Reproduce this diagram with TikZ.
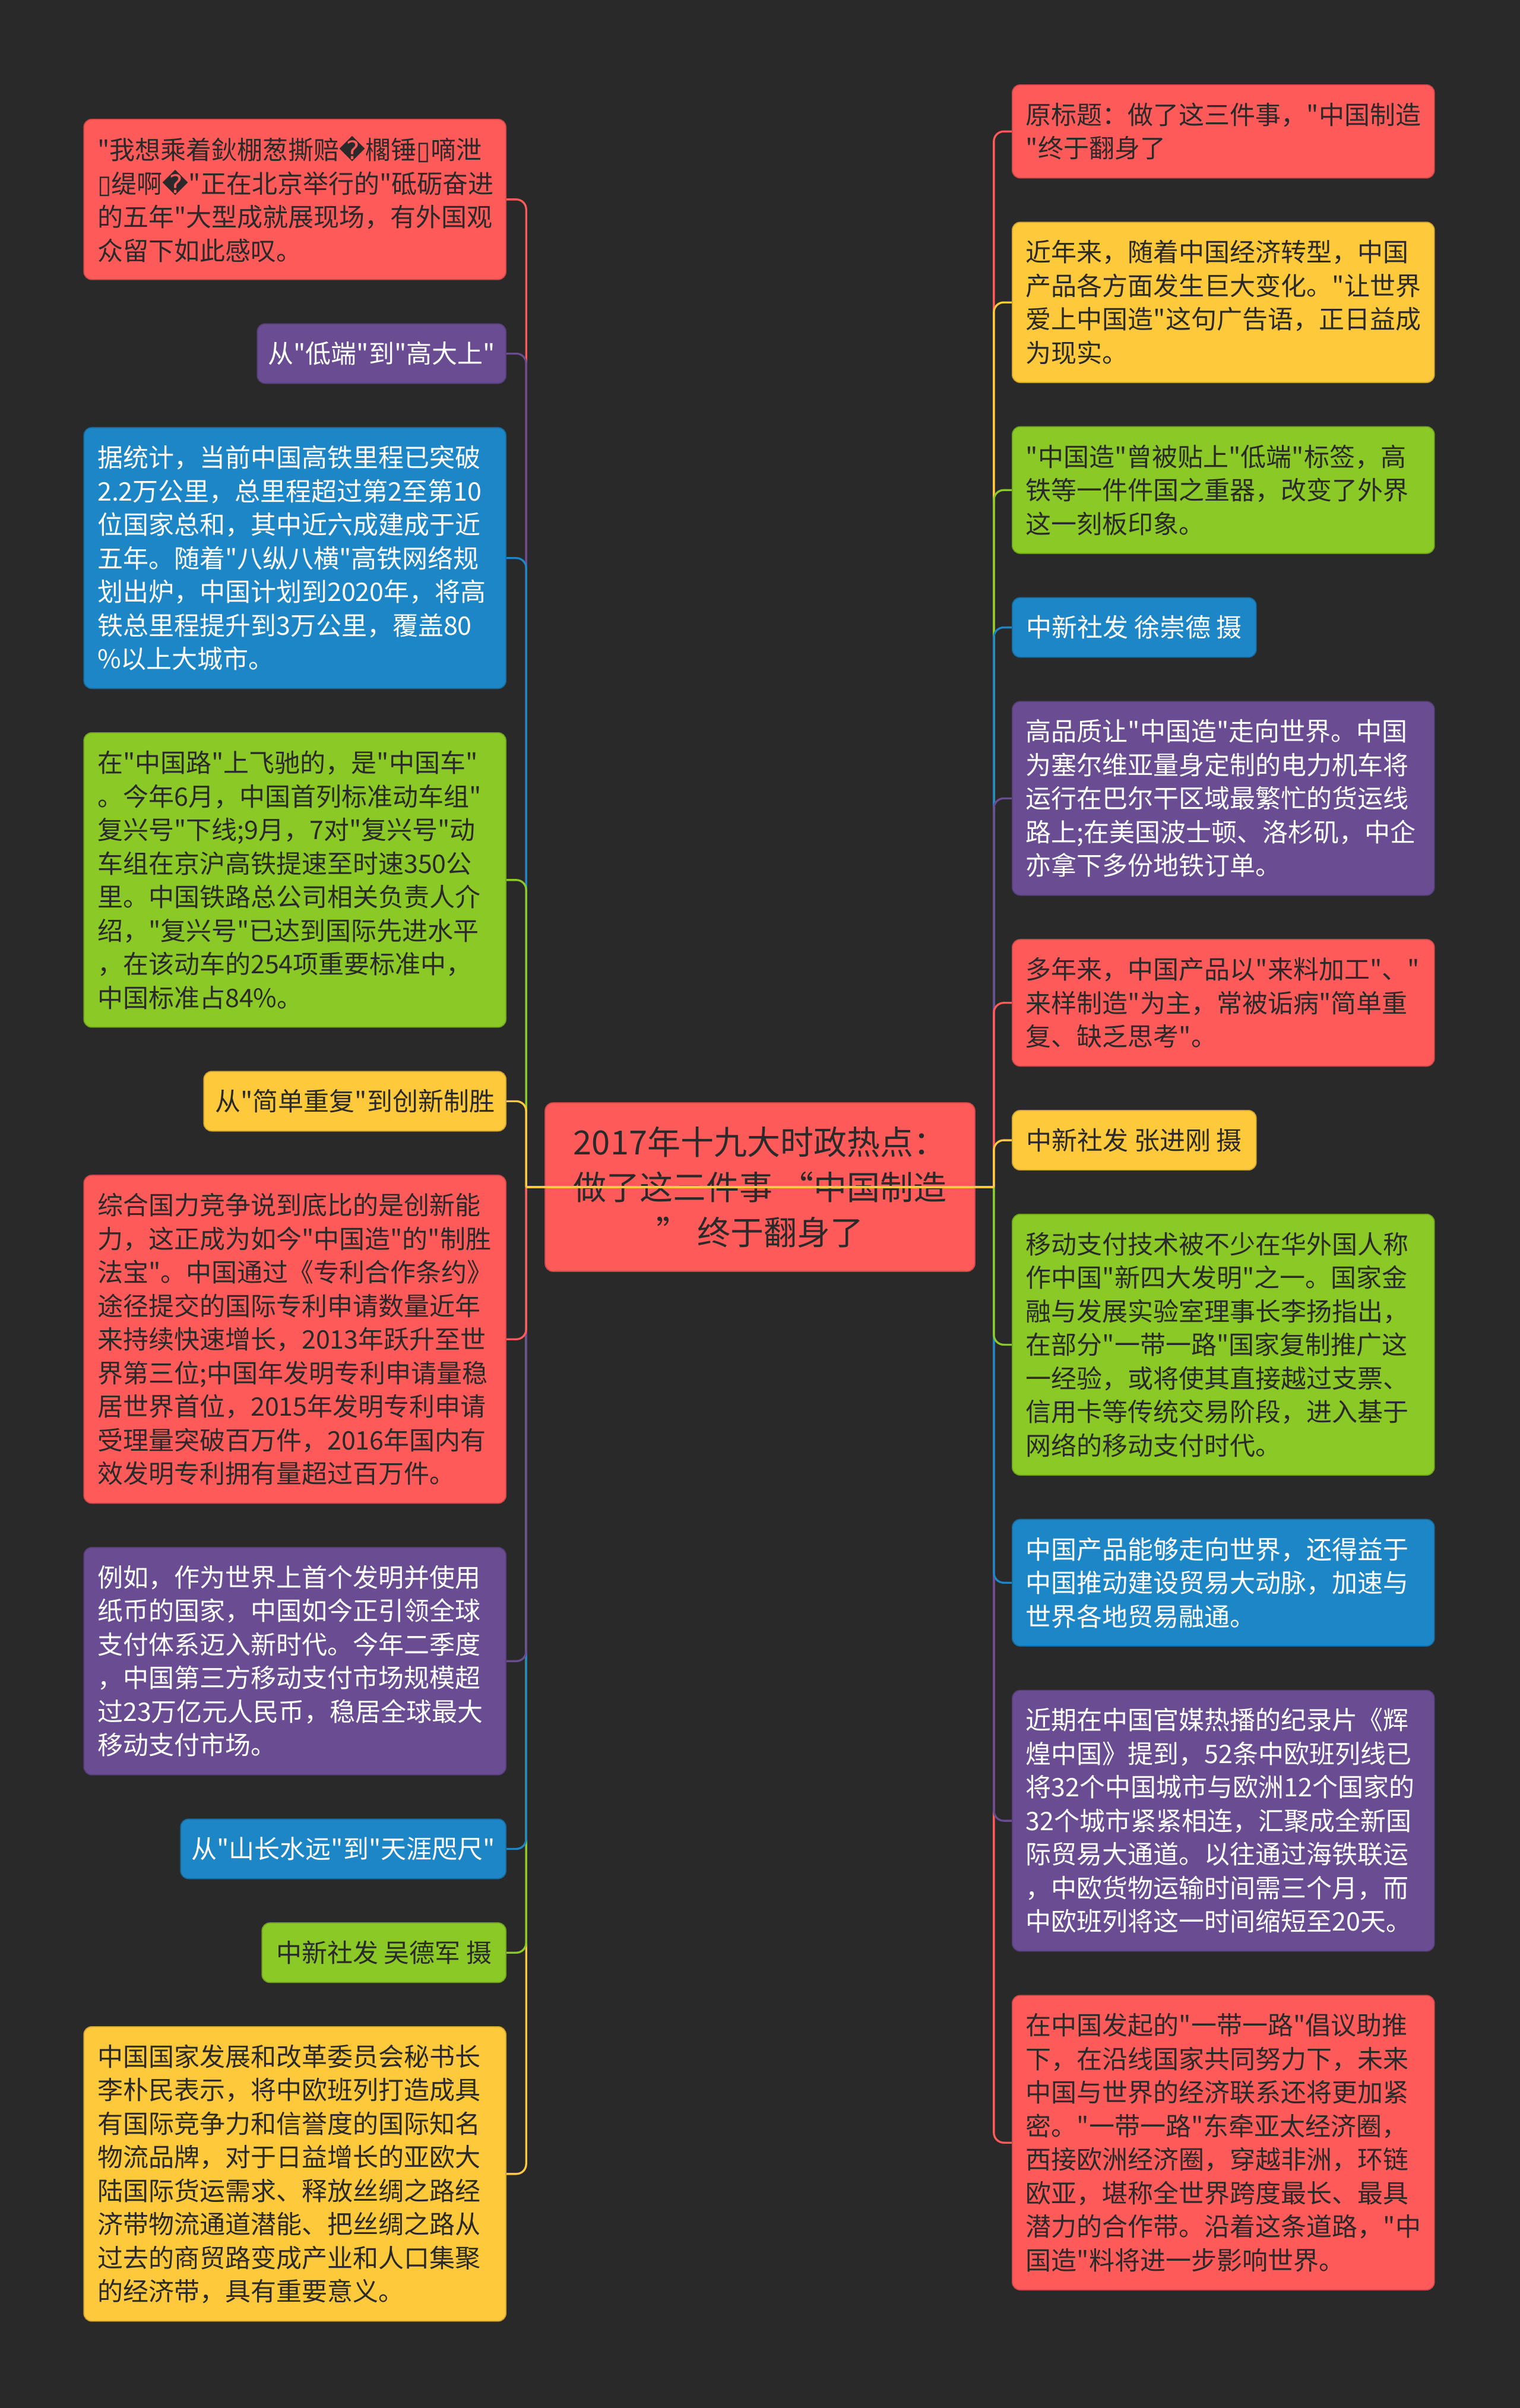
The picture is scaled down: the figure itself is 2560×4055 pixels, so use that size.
\documentclass[tikz,border=0pt]{standalone}
\usepackage{fontspec}
\usetikzlibrary{positioning}
\newfontfamily\cjk{Noto Sans CJK SC}
\newfontfamily\djv{DejaVu Sans}
\definecolor{canvas}{RGB}{41, 41, 41}
\definecolor{mmred}{RGB}{255, 90, 90}
\definecolor{mmyellow}{RGB}{255, 201, 60}
\definecolor{mmgreen}{RGB}{139, 201, 38}
\definecolor{mmblue}{RGB}{28, 134, 198}
\definecolor{mmpurple}{RGB}{106, 76, 147}
\definecolor{ink}{RGB}{42, 42, 42}
\newcommand{\rpl}{{\djv\char"FFFD}}
\newcommand{\tofu}{{\djv\char"25AF}}

\begin{document}
\begin{tikzpicture}[
    % Global styles (one unit = one pixel of the page)
    x=0.3pt, y=-0.3pt,
    font=\cjk,
    node distance=21.8pt,
    % Box styles
    leaf/.style={
        rectangle,
        rounded corners=4pt,
        inner xsep=6.9pt,
        inner ysep=0pt,
        text width=199.5pt,
        align=left,
        line width=0.5pt,
        font=\cjk\fontsize{12.9pt}{16.95pt}\selectfont
    },
    nrows/.style={minimum height=#1*16.95pt+13.2pt},
    tag/.style={
        rectangle,
        rounded corners=4pt,
        inner sep=0pt,
        minimum height=30.15pt,
        align=center,
        line width=0.5pt,
        font=\cjk\fontsize{12.9pt}{16.95pt}\selectfont
    },
    hub/.style={
        rectangle,
        rounded corners=4pt,
        minimum width=217.2pt,
        minimum height=85.2pt,
        align=center,
        fill=mmred,
        draw=mmred!80!black,
        text=ink,
        line width=0.5pt,
        font=\cjk\fontsize{16.8pt}{22.8pt}\selectfont
    },
    % Colour styles
    redbox/.style={fill=mmred, draw=mmred!80!black, text=ink},
    yellowbox/.style={fill=mmyellow, draw=mmyellow!80!black, text=ink},
    greenbox/.style={fill=mmgreen, draw=mmgreen!80!black, text=ink},
    bluebox/.style={fill=mmblue, draw=mmblue!80!black, text=white},
    purplebox/.style={fill=mmpurple, draw=mmpurple!80!black, text=white},
    link/.style={
        draw=#1,
        line width=1pt,
        rounded corners=5pt
    }
]

% Background
\fill [canvas] (0,0) rectangle (2560,4055);

% --- Nodes ---

% Central topic
\node (root) [hub] at (1280,1999) {2017年十九大时政热点：\\做了这三件事 “中国制造\\” 终于翻身了};
\coordinate (trunkL) at ([xshift=-9.3pt]root.west);
\coordinate (trunkR) at ([xshift=9.3pt]root.east);

% Left branch
\node (l1) [leaf, redbox, nrows=4, anchor=north east] at (853,200) {"我想乘着鈥棚葱撕赔\rpl{}櫊锤\tofu{}嘀泄\\\tofu{}缇啊\rpl{}"正在北京举行的"砥砺奋进\\的五年"大型成就展现场，有外国观\\众留下如此感叹。};
\node (l2) [tag, purplebox, minimum width=125.7pt, below=of l1.south east, anchor=north east] {从"低端"到"高大上"};
\node (l3) [leaf, bluebox, nrows=7, below=of l2.south east, anchor=north east] {据统计，当前中国高铁里程已突破\\2.2万公里，总里程超过第2至第10\\位国家总和，其中近六成建成于近\\五年。随着"八纵八横"高铁网络规\\划出炉，中国计划到2020年，将高\\铁总里程提升到3万公里，覆盖80\\\%以上大城市。};
\node (l4) [leaf, greenbox, nrows=8, below=of l3.south east, anchor=north east] {在"中国路"上飞驰的，是"中国车"\\。今年6月，中国首列标准动车组"\\复兴号"下线;9月，7对"复兴号"动\\车组在京沪高铁提速至时速350公\\里。中国铁路总公司相关负责人介\\绍，"复兴号"已达到国际先进水平\\，在该动车的254项重要标准中，\\中国标准占84\%。};
\node (l5) [tag, yellowbox, minimum width=152.7pt, below=of l4.south east, anchor=north east] {从"简单重复"到创新制胜};
\node (l6) [leaf, redbox, nrows=9, below=of l5.south east, anchor=north east] {综合国力竞争说到底比的是创新能\\力，这正成为如今"中国造"的"制胜\\法宝"。中国通过《专利合作条约》\\途径提交的国际专利申请数量近年\\来持续快速增长，2013年跃升至世\\界第三位;中国年发明专利申请量稳\\居世界首位，2015年发明专利申请\\受理量突破百万件，2016年国内有\\效发明专利拥有量超过百万件。};
\node (l7) [leaf, purplebox, nrows=6, below=of l6.south east, anchor=north east] {例如，作为世界上首个发明并使用\\纸币的国家，中国如今正引领全球\\支付体系迈入新时代。今年二季度\\，中国第三方移动支付市场规模超\\过23万亿元人民币，稳居全球最大\\移动支付市场。};
\node (l8) [tag, bluebox, minimum width=164.4pt, below=of l7.south east, anchor=north east] {从"山长水远"到"天涯咫尺"};
\node (l9) [tag, greenbox, minimum width=123.3pt, below=of l8.south east, anchor=north east] {中新社发 吴德军 摄};
\node (l10) [leaf, yellowbox, nrows=8, below=of l9.south east, anchor=north east] {中国国家发展和改革委员会秘书长\\李朴民表示，将中欧班列打造成具\\有国际竞争力和信誉度的国际知名\\物流品牌，对于日益增长的亚欧大\\陆国际货运需求、释放丝绸之路经\\济带物流通道潜能、把丝绸之路从\\过去的商贸路变成产业和人口集聚\\的经济带，具有重要意义。};

% Right branch
\node (r1) [leaf, redbox, nrows=2, anchor=north west] at (1704,142) {原标题：做了这三件事，"中国制造\\"终于翻身了};
\node (r2) [leaf, yellowbox, nrows=4, below=of r1.south west, anchor=north west] {近年来，随着中国经济转型，中国\\产品各方面发生巨大变化。"让世界\\爱上中国造"这句广告语，正日益成\\为现实。};
\node (r3) [leaf, greenbox, nrows=3, below=of r2.south west, anchor=north west] {"中国造"曾被贴上"低端"标签，高\\铁等一件件国之重器，改变了外界\\这一刻板印象。};
\node (r4) [tag, bluebox, minimum width=123.3pt, below=of r3.south west, anchor=north west] {中新社发 徐崇德 摄};
\node (r5) [leaf, purplebox, nrows=5, below=of r4.south west, anchor=north west] {高品质让"中国造"走向世界。中国\\为塞尔维亚量身定制的电力机车将\\运行在巴尔干区域最繁忙的货运线\\路上;在美国波士顿、洛杉矶，中企\\亦拿下多份地铁订单。};
\node (r6) [leaf, redbox, nrows=3, below=of r5.south west, anchor=north west] {多年来，中国产品以"来料加工"、"\\来样制造"为主，常被诟病"简单重\\复、缺乏思考"。};
\node (r7) [tag, yellowbox, minimum width=123.3pt, below=of r6.south west, anchor=north west] {中新社发 张进刚 摄};
\node (r8) [leaf, greenbox, nrows=7, below=of r7.south west, anchor=north west] {移动支付技术被不少在华外国人称\\作中国"新四大发明"之一。国家金\\融与发展实验室理事长李扬指出，\\在部分"一带一路"国家复制推广这\\一经验，或将使其直接越过支票、\\信用卡等传统交易阶段，进入基于\\网络的移动支付时代。};
\node (r9) [leaf, bluebox, nrows=3, below=of r8.south west, anchor=north west] {中国产品能够走向世界，还得益于\\中国推动建设贸易大动脉，加速与\\世界各地贸易融通。};
\node (r10) [leaf, purplebox, nrows=7, below=of r9.south west, anchor=north west] {近期在中国官媒热播的纪录片《辉\\煌中国》提到，52条中欧班列线已\\将32个中国城市与欧洲12个国家的\\32个城市紧紧相连，汇聚成全新国\\际贸易大通道。以往通过海铁联运\\，中欧货物运输时间需三个月，而\\中欧班列将这一时间缩短至20天。};
\node (r11) [leaf, redbox, nrows=8, below=of r10.south west, anchor=north west] {在中国发起的"一带一路"倡议助推\\下，在沿线国家共同努力下，未来\\中国与世界的经济联系还将更加紧\\密。"一带一路"东牵亚太经济圈，\\西接欧洲经济圈，穿越非洲，环链\\欧亚，堪称全世界跨度最长、最具\\潜力的合作带。沿着这条道路，"中\\国造"料将进一步影响世界。};

% --- Edges ---

% Left branch, outermost first
\draw [link=mmred] (trunkL) |- (l1.east);
\draw [link=mmpurple] (trunkL) |- (l2.east);
\draw [link=mmblue] (trunkL) |- (l3.east);
\draw [link=mmgreen] (trunkL) |- (l4.east);
\draw [link=mmyellow] (trunkL) |- (l5.east);
\draw [link=mmyellow] (trunkL) |- (l10.east);
\draw [link=mmgreen] (trunkL) |- (l9.east);
\draw [link=mmblue] (trunkL) |- (l8.east);
\draw [link=mmpurple] (trunkL) |- (l7.east);
\draw [link=mmred] (trunkL) |- (l6.east);

% Right branch, outermost first
\draw [link=mmred] (trunkR) |- (r1.west);
\draw [link=mmyellow] (trunkR) |- (r2.west);
\draw [link=mmgreen] (trunkR) |- (r3.west);
\draw [link=mmblue] (trunkR) |- (r4.west);
\draw [link=mmpurple] (trunkR) |- (r5.west);
\draw [link=mmred] (trunkR) |- (r6.west);
\draw [link=mmyellow] (trunkR) |- (r7.west);
\draw [link=mmred] (trunkR) |- (r11.west);
\draw [link=mmpurple] (trunkR) |- (r10.west);
\draw [link=mmblue] (trunkR) |- (r9.west);
\draw [link=mmgreen] (trunkR) |- (r8.west);

% Line across the central topic
\draw [link=mmyellow] (trunkL) -- (trunkR);

\end{tikzpicture}
\end{document}
